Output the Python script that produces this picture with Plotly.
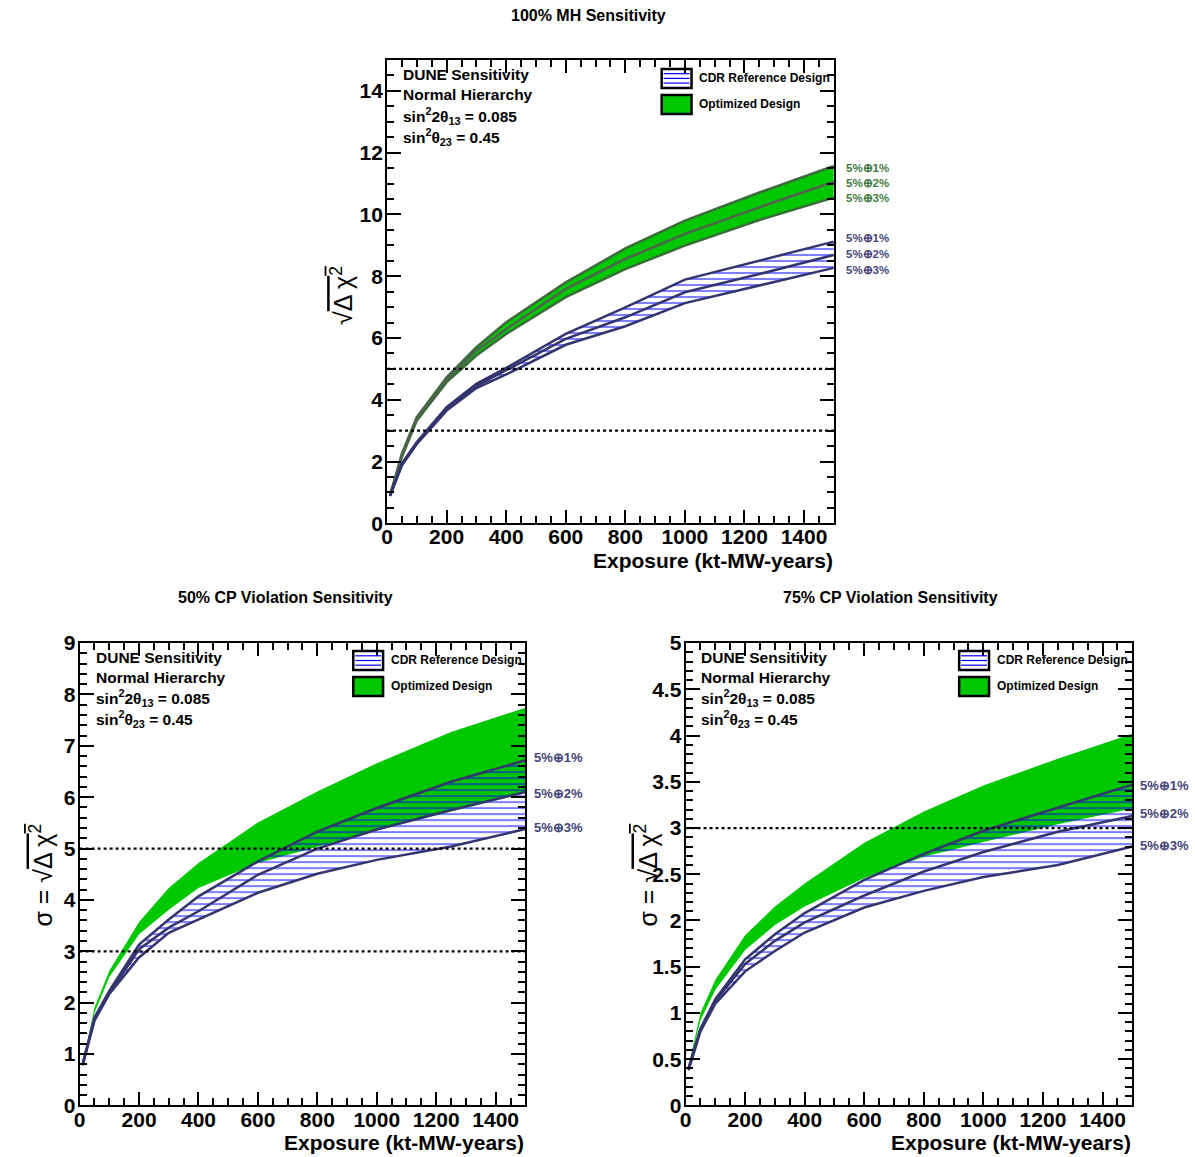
import plotly.graph_objects as go

# reference canvas (pixels)
W, H = 1195, 1157
# calibration of the rendered page: screen = A + S * figure_px
AX, SX = 0.0, 1.0
AY, SY = -1.1, 0.982
FW = int(round((W - AX) / SX))
FH = int(round((H - AY) / SY))

# ---------------- data ----------------
exposure = [10, 50, 100, 200, 300, 400, 600, 800, 1000, 1250, 1500]

# 100% MH sensitivity
mh_opt_1 = [0.90, 2.26, 3.44, 4.73, 5.70, 6.51, 7.80, 8.90, 9.80, 10.71, 11.57]
mh_opt_2 = [0.90, 2.20, 3.40, 4.65, 5.59, 6.29, 7.59, 8.56, 9.37, 10.23, 11.06]
mh_opt_3 = [0.90, 2.15, 3.33, 4.57, 5.43, 6.13, 7.32, 8.23, 8.99, 9.82, 10.55]
mh_cdr_1 = [0.90, 1.94, 2.63, 3.76, 4.52, 5.03, 6.13, 6.99, 7.89, 8.50, 9.12]
mh_cdr_2 = [0.90, 1.91, 2.60, 3.71, 4.45, 4.95, 5.97, 6.67, 7.48, 8.07, 8.69]
mh_cdr_3 = [0.88, 1.88, 2.57, 3.65, 4.38, 4.82, 5.78, 6.38, 7.13, 7.69, 8.27]

# 50% CP violation sensitivity
cp50_opt_hi = [0.80, 1.90, 2.62, 3.57, 4.23, 4.72, 5.51, 6.11, 6.66, 7.27, 7.74]
cp50_opt_lo = [0.80, 1.80, 2.50, 3.33, 3.81, 4.23, 4.72, 5.03, 5.35, 5.72, 6.08]
cp50_cdr_1 = [0.80, 1.71, 2.23, 3.13, 3.62, 4.07, 4.75, 5.33, 5.79, 6.30, 6.72]
cp50_cdr_2 = [0.80, 1.68, 2.18, 3.04, 3.46, 3.78, 4.49, 5.00, 5.37, 5.75, 6.10]
cp50_cdr_3 = [0.78, 1.65, 2.17, 2.88, 3.36, 3.62, 4.14, 4.51, 4.78, 5.04, 5.38]

# 75% CP violation sensitivity
cp75_opt_hi = [0.42, 1.00, 1.36, 1.84, 2.15, 2.40, 2.84, 3.18, 3.46, 3.75, 4.02]
cp75_opt_lo = [0.40, 0.92, 1.25, 1.68, 1.95, 2.15, 2.46, 2.69, 2.85, 3.04, 3.21]
cp75_cdr_1 = [0.40, 0.83, 1.15, 1.58, 1.85, 2.08, 2.44, 2.72, 2.97, 3.22, 3.47]
cp75_cdr_2 = [0.40, 0.82, 1.13, 1.53, 1.78, 1.98, 2.27, 2.53, 2.74, 2.96, 3.13]
cp75_cdr_3 = [0.38, 0.80, 1.10, 1.45, 1.67, 1.87, 2.14, 2.32, 2.47, 2.60, 2.80]

band_labels = ["5%⊕1%", "5%⊕2%", "5%⊕3%"]
legend_labels = ["CDR Reference Design", "Optimized Design"]
info_lines = ["DUNE Sensitivity", "Normal Hierarchy",
              "sin<sup>2</sup>2θ<sub>13</sub> = 0.085",
              "sin<sup>2</sup>θ<sub>23</sub> = 0.45"]
panel_titles = ["100% MH Sensitivity", "50% CP Violation Sensitivity",
                "75% CP Violation Sensitivity"]
x_title = "Exposure (kt-MW-years)"
thresholds = [3, 5]

# ---------------- style ----------------
FONT = "Liberation Sans, Arial, Helvetica, sans-serif"
GREEN = "#00c800"
DKGREEN = "#3b6b3b"
MIDGREEN = "#4f634f"
NAVY = "#34346e"
HATCH = "#0000ff"
LBL_GREEN = "#3f7a3f"
LBL_NAVY = "#45457a"


def px(x):
    return ((x - AX) / SX) / FW


def py(y):
    return 1 - ((y - AY) / SY) / FH


fig = go.Figure()

# axis frames (reference pixel boxes: left, right, top, bottom)
frames = {
    "": (386, 835, 59, 523),
    "2": (77, 525, 643, 1106),
    "3": (686, 1135, 643, 1106),
}


def add_band(axn, upper, lower, mid, fill, line_col, line_w, pattern=False):
    xa = "x" + axn
    ya = "y" + axn
    fig.add_trace(go.Scatter(x=exposure, y=upper, mode="lines", xaxis=xa, yaxis=ya,
                             line=dict(color=line_col, width=line_w), showlegend=False,
                             hoverinfo="skip"))
    kw = {}
    if pattern:
        kw["fillpattern"] = dict(shape="-", fgcolor=HATCH, size=6, solidity=0.35)
        kw["fillcolor"] = "rgba(0,0,0,0)"
    else:
        kw["fillcolor"] = fill
    fig.add_trace(go.Scatter(x=exposure, y=lower, mode="lines", xaxis=xa, yaxis=ya,
                             fill="tonexty", line=dict(color=line_col, width=line_w),
                             showlegend=False, hoverinfo="skip", **kw))
    if mid is not None:
        fig.add_trace(go.Scatter(x=exposure, y=mid, mode="lines", xaxis=xa, yaxis=ya,
                                 line=dict(color=line_col if pattern else MIDGREEN, width=line_w),
                                 showlegend=False, hoverinfo="skip"))


# top: MH
add_band("", mh_opt_1, mh_opt_3, mh_opt_2, GREEN, DKGREEN, 2.5)
add_band("", mh_cdr_1, mh_cdr_3, mh_cdr_2, None, NAVY, 2.5, pattern=True)
# bottom-left: CP 50%
add_band("2", cp50_opt_hi, cp50_opt_lo, None, GREEN, "rgba(0,0,0,0)", 0.1)
add_band("2", cp50_cdr_1, cp50_cdr_3, cp50_cdr_2, None, NAVY, 2.5, pattern=True)
# bottom-right: CP 75%
add_band("3", cp75_opt_hi, cp75_opt_lo, None, GREEN, "rgba(0,0,0,0)", 0.1)
add_band("3", cp75_cdr_1, cp75_cdr_3, cp75_cdr_2, None, NAVY, 2.5, pattern=True)

# axes
yspec = {"": (15, 2, 0.5), "2": (9, 1, 0.2), "3": (5, 0.5, 0.1)}
tickfont = dict(family=FONT, size=21, color="black", weight="bold")
layout_axes = {}
for axn, (x0, x1, y0, y1) in frames.items():
    ymax, dt, mdt = yspec[axn]
    common = dict(showline=True, linecolor="black", linewidth=2, mirror="allticks",
                  ticks="inside", tickwidth=2, tickcolor="black", showgrid=False,
                  zeroline=False, tickfont=tickfont)
    layout_axes["xaxis" + axn] = dict(
        domain=[px(x0), px(x1)], range=[0, 1500], dtick=200, tick0=0,
        ticklen=13, anchor="y" + axn, ticklabelstandoff=-6,
        minor=dict(dtick=50, ticklen=7, tickwidth=2, ticks="inside", tickcolor="black"),
        **common)
    layout_axes["yaxis" + axn] = dict(
        domain=[py(y1), py(y0)], range=[0, ymax], dtick=dt, tick0=0,
        ticklen=14, anchor="x" + axn, ticklabelstandoff=-2,
        minor=dict(dtick=mdt, ticklen=7, tickwidth=2, ticks="inside", tickcolor="black"),
        **common)
fig.update_layout(**layout_axes)

shapes = []
# threshold lines
for axn, ymax in [("", 15), ("2", 9), ("3", 5)]:
    for t in thresholds:
        if t < ymax:
            shapes.append(dict(type="line", xref=("x" + axn) + " domain",
                               yref="y" + axn, x0=0, x1=1, y0=t, y1=t, layer="above",
                               line=dict(color="black", width=2.2, dash="dot")))

annotations = []


def text(x, y, s, size, color="black", xanchor="left", bold=True, angle=0, yanchor="middle"):
    annotations.append(dict(x=px(x), y=py(y), xref="paper", yref="paper", text=s,
                            showarrow=False, xanchor=xanchor, yanchor=yanchor,
                            textangle=angle,
                            font=dict(family=FONT, size=size, color=color,
                                      weight="bold" if bold else "normal")))


# titles
text(588, 14, panel_titles[0], 16, xanchor="center")
text(284, 597, panel_titles[1], 16, xanchor="center")
text(892, 597, panel_titles[2], 16, xanchor="center")

# x titles
text(836, 560, x_title, 21, xanchor="right")
text(526, 1143, x_title, 21, xanchor="right")
text(1136, 1143, x_title, 21, xanchor="right")

# y titles
sq = "√<span style='text-decoration:overline'>Δ χ<sup>2</sup></span>"
text(340, 295, sq, 25, xanchor="center", bold=False, angle=-90)
text(38, 875, "σ = " + sq, 25, xanchor="center", bold=False, angle=-90)
text(646, 875, "σ = " + sq, 25, xanchor="center", bold=False, angle=-90)

# info text blocks
for (bx, by) in [(400, 74), (91, 657), (700, 657)]:
    for i, line in enumerate(info_lines):
        text(bx, by + [0, 20, 41, 62][i], line, 15.5)

# legends (decorative key boxes)
for (lx, ly) in [(662, 68), (352, 651), (961, 651)]:
    bw = 30
    for k in range(1, 4):
        yy = ly + k * 4.7
        shapes.append(dict(type="line", xref="paper", yref="paper",
                           x0=px(lx + 2), x1=px(lx + bw - 2), y0=py(yy), y1=py(yy),
                           line=dict(color=HATCH, width=1.2)))
    shapes.append(dict(type="rect", xref="paper", yref="paper",
                       x0=px(lx), x1=px(lx + bw), y0=py(ly), y1=py(ly + 19),
                       line=dict(color="black", width=2.5), fillcolor="rgba(0,0,0,0)"))
    shapes.append(dict(type="rect", xref="paper", yref="paper",
                       x0=px(lx), x1=px(lx + bw), y0=py(ly + 26), y1=py(ly + 45),
                       line=dict(color="black", width=2.5), fillcolor=GREEN))
    text(lx + 36, ly + 9, legend_labels[0], 12)
    text(lx + 36, ly + 35, legend_labels[1], 12)

# band labels
for i, s in enumerate(band_labels):
    text(845, [167, 182, 197][i], s, 11.5, color=LBL_GREEN)
    text(845, [237, 253, 269][i], s, 11.5, color=LBL_NAVY)
    text(532, [758, 794, 828][i], s, 13, color=LBL_NAVY)
    text(1141, [786, 814, 846][i], s, 13, color=LBL_NAVY)

fig.update_layout(width=FW, height=FH, margin=dict(l=0, r=0, t=0, b=0),
                  paper_bgcolor="white", plot_bgcolor="white", showlegend=False,
                  shapes=shapes, annotations=annotations)

page_fix = ("document.body.style.margin='0px';"
            "var d=document.getElementById('{plot_id}');"
            "d.style.position='relative';d.style.top='-12px';d.style.left='-3px';")

fig.write_html("out.html", post_script=page_fix, config={"displayModeBar": False})
